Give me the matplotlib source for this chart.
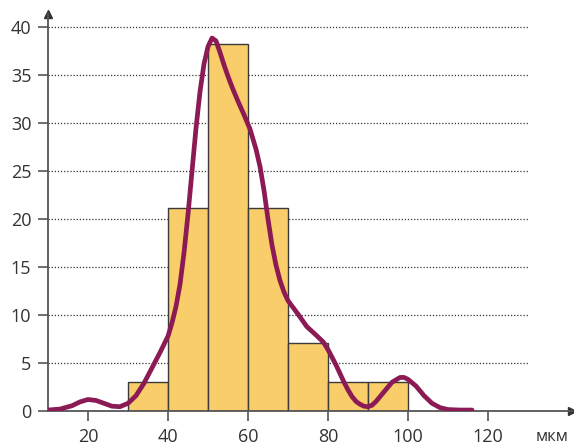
import matplotlib
matplotlib.use("Agg")
import matplotlib.pyplot as plt

# histogram bins (мкм) and counts
bin_edges = [30, 40, 50, 60, 70, 80, 90, 100]
counts = [3, 21.2, 38.3, 21.2, 7.1, 3, 3]

# smooth density curve
curve_x = [10, 13, 16, 18, 20, 22, 24, 26, 28, 30, 32, 34, 36, 38, 40, 41, 42, 43, 44,
           45, 46, 47, 48, 49, 50, 51, 52, 53, 54, 55, 56, 57.5, 59, 60.5, 62, 63, 64,
           65, 66, 67, 68, 69, 70, 72.5, 74.7, 76.8, 78.8, 80, 81, 82, 83, 84, 85, 86,
           87, 88, 89, 90, 91, 92, 94, 96, 98, 99, 100, 102, 104, 106, 108, 110, 113,
           116]
curve_y = [0.1, 0.2, 0.55, 0.95, 1.2, 1.1, 0.8, 0.5, 0.45, 0.8, 1.6, 2.9, 4.5, 6.1, 7.8,
           9.2, 10.9, 13.2, 16.5, 20.5, 25, 29.5, 33.3, 36.2, 38, 38.9, 38.6, 37.4, 36.1,
           34.9, 33.8, 32.3, 30.9, 29.4, 27.3, 25.5, 23, 20, 17.3, 15.2, 13.6, 12.4,
           11.5, 10.1, 8.8, 8, 7.2, 6.4, 5.6, 4.8, 3.9, 3.0, 2.2, 1.5, 1.0, 0.7, 0.5,
           0.45, 0.6, 1.0, 2, 3, 3.5, 3.5, 3.3, 2.6, 1.6, 0.8, 0.35, 0.15, 0.1, 0.1]

x_ticks = [20, 40, 60, 80, 100, 120]
y_ticks = [0, 5, 10, 15, 20, 25, 30, 35, 40]

BAR_COLOR = "#f8cd6a"
CURVE_COLOR = "#8b1a55"
AXIS_COLOR = "#555555"
TEXT_COLOR = "#333333"

plt.rcParams["font.family"] = ["Open Sans", "DejaVu Sans"]

fig = plt.figure(figsize=(5.74, 4.45), dpi=100)
ax = fig.add_axes([0.0836, 0.0764, 0.913, 0.892])

ax.hlines(y_ticks[1:], 10, 130, colors="#333333", linestyles=(0, (1, 1.5)),
          linewidth=0.9, zorder=1)

widths = [b - a for a, b in zip(bin_edges[:-1], bin_edges[1:])]
ax.bar(bin_edges[:-1], counts, width=widths, align="edge", color=BAR_COLOR,
       edgecolor="#3a3a3a", linewidth=1.0, zorder=2)

ax.plot(curve_x, curve_y, color=CURVE_COLOR, linewidth=3.4, solid_capstyle="round",
        solid_joinstyle="round", zorder=3)

ax.set_xlim(10, 141)
ax.set_ylim(0, 41.4)
ax.set_xticks(x_ticks)
ax.set_yticks(y_ticks)
for side in ("top", "right"):
    ax.spines[side].set_visible(False)
for side in ("left", "bottom"):
    ax.spines[side].set_color(AXIS_COLOR)
    ax.spines[side].set_linewidth(1.3)
ax.tick_params(colors=AXIS_COLOR, labelcolor=TEXT_COLOR, labelsize=13, length=7,
               width=1.2, direction="out", pad=5)

# arrow heads on the axes
ax.plot(1, 0, ">", color="#333333", markersize=6, transform=ax.transAxes, clip_on=False)
ax.plot(0, 1, "^", color="#333333", markersize=6, transform=ax.transAxes, clip_on=False)

ax.text(136, -1.9, "мкм", ha="center", va="top", fontsize=12, color=TEXT_COLOR)

fig.savefig("out.png", dpi=100)
